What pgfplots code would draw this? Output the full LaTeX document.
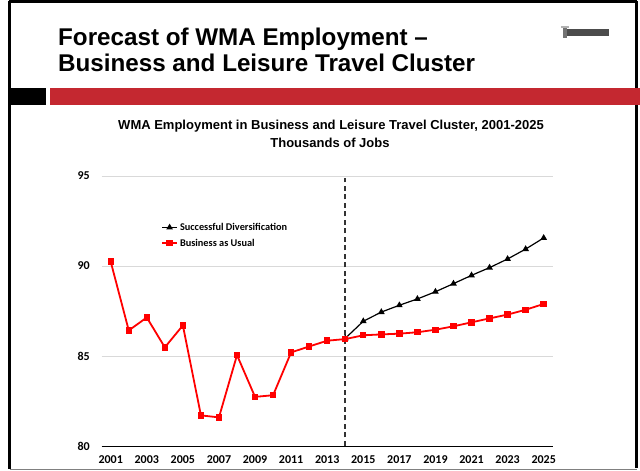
\documentclass[border=0pt]{standalone}
\usepackage{fontspec}
\setmainfont{Liberation Sans}
\newfontfamily\carlito{Carlito}
\usepackage{pgfplots}
\pgfplotsset{compat=1.18}
\definecolor{barred}{RGB}{196,40,48}
\definecolor{gridgray}{RGB}{217,217,217}
\begin{document}
\begin{tikzpicture}[x=1pt,y=1pt]
\path[use as bounding box] (0,0) rectangle (640,471);
% slide frame
\draw[line width=2.5pt] (9.7,2) -- (9.7,469.5);
\draw[line width=2.5pt] (8.5,469.5) -- (636.5,469.5);
\draw[line width=2.5pt] (636.5,469.5) -- (636.5,3);
\draw[line width=1pt, gray] (9.7,1) -- (636.5,1);
% title
\node[anchor=base west, inner sep=0pt, font=\bfseries\fontsize{24.2}{26}\selectfont] at (58,425) {Forecast of WMA Employment –};
\node[anchor=base west, inner sep=0pt, font=\bfseries\fontsize{24.2}{26}\selectfont] at (58,399.3) {Business and Leisure Travel Cluster};
% logo
\fill[black!55] (563,433) rectangle (567,444);
\fill[black!70] (567,435) rectangle (609,441.5);
\fill[black!30] (561,443) rectangle (569,444.5);
% bars
\fill[black] (10,366) rectangle (46,382.7);
\fill[barred] (50,366) rectangle (640,382.7);
% chart titles
\node[anchor=base, inner sep=0pt, font=\bfseries\fontsize{13}{15}\selectfont] at (331,341) {WMA Employment in Business and Leisure Travel Cluster, 2001-2025};
\node[anchor=base, inner sep=0pt, font=\bfseries\fontsize{13}{15}\selectfont] at (330,323) {Thousands of Jobs};
\begin{axis}[
  at={(101.7pt,25pt)}, anchor=south west,
  scale only axis, width=451pt, height=270pt,
  xmin=2000.5, xmax=2025.5, ymin=80, ymax=95,
  xtick={2001,2003,...,2025}, ytick={80,85,90,95},
  axis x line*=bottom, axis y line*=left,
  x axis line style={-, line width=0.9pt},
  y axis line style={draw=none},
  tick style={draw=none},
  ymajorgrids, grid style={gridgray, line width=0.8pt},
  /pgf/number format/1000 sep={},
  /pgf/number format/assume math mode=true,
  ticklabel style={font=\carlito\bfseries\fontsize{12}{14}\selectfont},
  yticklabel style={xshift=-8.5pt},
  xticklabel style={yshift=-6.5pt},
  clip=false,
  legend cell align=left,
  legend style={draw=none, fill=none, inner sep=0pt, anchor=west,
    at={(0.1315,0.780)}, font=\carlito\bfseries\fontsize{10.3}{12}\selectfont,
    row sep=3pt},
  legend image code/.code={\draw[mark repeat=2,mark phase=2,#1] plot coordinates {(0pt,0pt) (7.5pt,0pt) (15pt,0pt)};},
]
\addplot[black!80, dash pattern=on 5pt off 3.5pt, line width=1.7pt, forget plot] coordinates {(2014,80) (2014,94.9)};
\addplot[black, line width=1.2pt, mark=triangle*, mark size=2.7pt, mark options={solid}] coordinates {
(2014,85.98) (2015,86.93) (2016,87.44) (2017,87.82) (2018,88.17) (2019,88.57)
(2020,89.02) (2021,89.48) (2022,89.91) (2023,90.39) (2024,90.94) (2025,91.56)};
\addlegendentry{Successful Diversification}
\addplot[red, line width=1.8pt, mark=square*, mark size=2.3pt, mark options={solid}] coordinates {
(2001,90.24) (2002,86.42) (2003,87.14) (2004,85.48) (2005,86.70) (2006,81.70)
(2007,81.59) (2008,85.05) (2009,82.73) (2010,82.82) (2011,85.20) (2012,85.53)
(2013,85.85) (2014,85.94) (2015,86.15) (2016,86.20) (2017,86.24) (2018,86.32)
(2019,86.46) (2020,86.65) (2021,86.87) (2022,87.09) (2023,87.30) (2024,87.57)
(2025,87.89)};
\addlegendentry{Business as Usual}
\end{axis}
\end{tikzpicture}
\end{document}
